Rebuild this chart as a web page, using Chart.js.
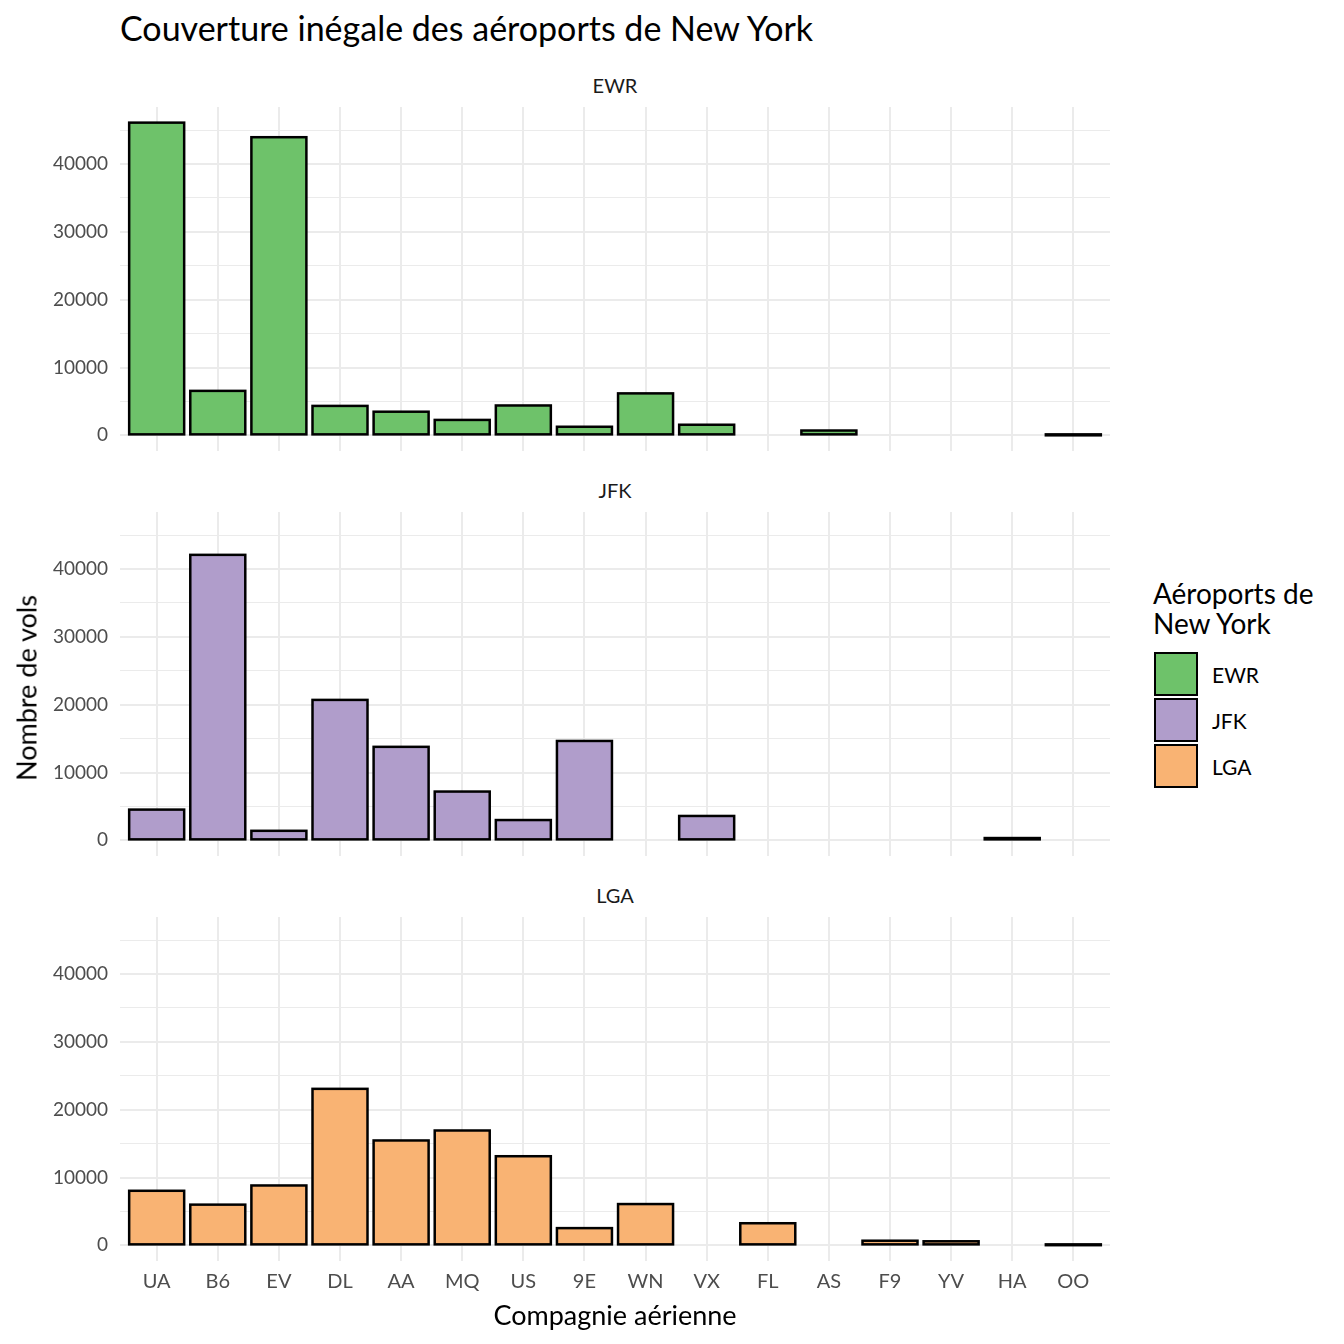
<!DOCTYPE html>
<html>
<head>
<meta charset="utf-8">
<script src="https://cdn.jsdelivr.net/npm/chart.js@4.4.1/dist/chart.umd.min.js"></script>
<style>
  body { margin: 0; background: #fff; font-family: Lato, "Open Sans", sans-serif; }
  #page { position: relative; width: 1344px; height: 1344px; overflow: hidden; }
  canvas { position: absolute; left: 0; }
  .txt { position: absolute; white-space: nowrap; }
  .strip { font-size: 20px; color: #1a1a1a; transform: translate(-50%, -50%); }
  .key { position: absolute; width: 40px; height: 40px; border: 2.5px solid #000; }
  .keylab { position: absolute; font-size: 21px; color: #000; transform: translateY(-50%); }
</style>
</head>
<body>
<div id="page">
  <div class="txt" style="left:120px; top:27px; font-size:34px; color:#000; transform:translateY(-50%);">Couverture inégale des aéroports de New York</div>

  <div class="txt strip" style="left:615px; top:85px;">EWR</div>
  <div class="txt strip" style="left:615px; top:490px;">JFK</div>
  <div class="txt strip" style="left:615px; top:895px;">LGA</div>

  <canvas id="graficoEWR" width="1120" height="404" style="top:77px"></canvas>
  <canvas id="graficoJFK" width="1120" height="404" style="top:482px"></canvas>
  <canvas id="graficoLGA" width="1120" height="418" style="top:887px"></canvas>

  <div class="txt" style="left:615px; top:1314px; font-size:27px; color:#000; transform:translate(-50%,-50%);">Compagnie aérienne</div>
  <div class="txt" style="left:26px; top:688px; font-size:27px; color:#000; transform:translate(-50%,-50%) rotate(-90deg);">Nombre de vols</div>

  <div class="txt" style="left:1153px; top:578px; font-size:28px; line-height:30px; color:#000;">Aéroports de<br>New York</div>
  <div class="key" style="left:1154px; top:652px; background:#6ec26a;"></div>
  <div class="key" style="left:1154px; top:698px; background:#b09dcb;"></div>
  <div class="key" style="left:1154px; top:744px; background:#f9b373;"></div>
  <div class="keylab" style="left:1212px; top:674px;">EWR</div>
  <div class="keylab" style="left:1212px; top:720px;">JFK</div>
  <div class="keylab" style="left:1212px; top:766px;">LGA</div>
</div>

<script>
// compagnies, dans l'ordre de l'axe
const compagnies = ['UA', 'B6', 'EV', 'DL', 'AA', 'MQ', 'US', '9E', 'WN', 'VX', 'FL', 'AS', 'F9', 'YV', 'HA', 'OO'];

// nombre de vols par aéroport (null = pas de barre)
const volsEWR = [46087, 6557, 43939, 4342, 3487, 2276, 4405, 1268, 6188, 1566, null, 714, null, null, null, 6];
const volsJFK = [4534, 42076, 1408, 20701, 13783, 7193, 2995, 14651, null, 3596, null, null, null, null, 342, null];
const volsLGA = [8044, 6002, 8826, 23067, 15459, 16928, 13136, 2541, 6087, null, 3260, null, 685, 601, null, 26];

const ticksY = [0, 10000, 20000, 30000, 40000];
const grilleY = [0, 5000, 10000, 15000, 20000, 25000, 30000, 35000, 40000, 45000];

const yMin = -2304;
const yMax = 48391;

Chart.defaults.font.family = 'Lato, "Open Sans", sans-serif';

// contour noir des barres, centré sur le bord (comme ggplot)
const contourBarres = {
  id: 'contourBarres',
  afterDatasetsDraw(chart) {
    const ctx = chart.ctx;
    const meta = chart.getDatasetMeta(0);
    const valeurs = chart.data.datasets[0].data;
    ctx.save();
    ctx.lineWidth = 2.5;
    ctx.strokeStyle = '#000';
    meta.data.forEach((el, i) => {
      if (valeurs[i].y == null) return;
      const p = el.getProps(['x', 'y', 'base', 'width'], true);
      ctx.strokeRect(p.x - p.width / 2, p.y, p.width, p.base - p.y);
    });
    ctx.restore();
  }
};

function creerPanneau(id, valeurs, couleur, avecEtiquettes) {
  const canvas = document.getElementById(id);
  const basAxe = avecEtiquettes ? 44 : 30;
  return new Chart(canvas, {
    type: 'bar',
    data: {
      datasets: [{
        data: valeurs.map((v, i) => ({ x: i, y: v })),
        backgroundColor: couleur,
        borderWidth: 0,
        barPercentage: 0.9,
        categoryPercentage: 1
      }]
    },
    options: {
      responsive: false,
      animation: false,
      layout: { padding: { top: 30, right: 10, left: 0, bottom: 0 } },
      plugins: { legend: { display: false }, tooltip: { enabled: false } },
      scales: {
        x: {
          type: 'linear',
          offset: false,
          min: -0.6,
          max: compagnies.length - 1 + 0.6,
          afterBuildTicks: s => { s.ticks = compagnies.map((c, i) => ({ value: i })); },
          afterFit: s => { s.height = basAxe; },
          grid: { color: '#ebebeb', lineWidth: 2, drawTicks: false, offset: false },
          border: { display: false },
          ticks: {
            display: avecEtiquettes,
            padding: 9,
            color: '#4d4d4d',
            font: { size: 20 },
            maxRotation: 0,
            autoSkip: false,
            callback: v => compagnies[v]
          }
        },
        y: {
          min: yMin,
          max: yMax,
          afterBuildTicks: s => { s.ticks = grilleY.map(v => ({ value: v })); },
          afterFit: s => { s.width = 120; },
          grid: {
            color: '#ebebeb',
            lineWidth: c => ticksY.includes(c.tick.value) ? 2 : 1,
            drawTicks: false
          },
          border: { display: false },
          ticks: {
            padding: 12,
            color: '#4d4d4d',
            font: { size: 19 },
            callback: v => ticksY.includes(v) ? String(v) : ''
          }
        }
      }
    },
    plugins: [contourBarres]
  });
}

creerPanneau('graficoEWR', volsEWR, '#6ec26a', false);
creerPanneau('graficoJFK', volsJFK, '#b09dcb', false);
creerPanneau('graficoLGA', volsLGA, '#f9b373', true);
</script>
</body>
</html>
